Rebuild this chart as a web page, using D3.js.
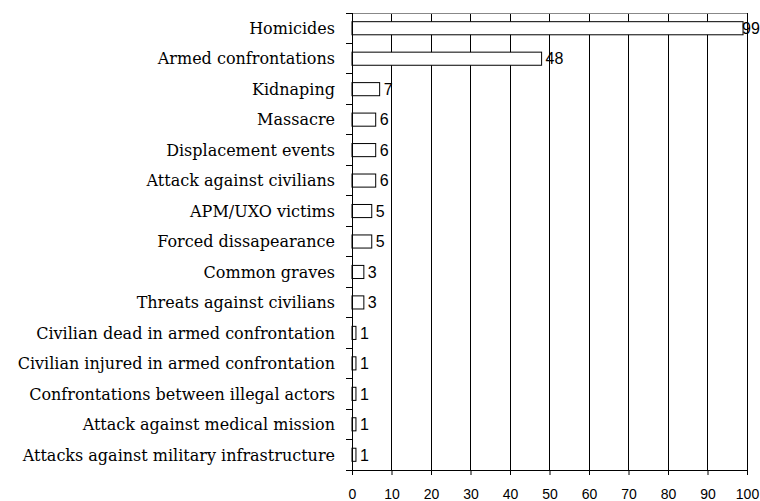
<!DOCTYPE html>
<html>
<head>
<meta charset="utf-8">
<script src="https://cdn.jsdelivr.net/npm/d3@7"></script>
<style>
  body { margin: 0; background: #fff; }
  svg { display: block; }
</style>
</head>
<body>
<svg id="chart" width="760" height="501"></svg>
<script>
var categories = [
  'Homicides', 'Armed confrontations', 'Kidnaping', 'Massacre',
  'Displacement events', 'Attack against civilians', 'APM/UXO victims',
  'Forced dissapearance', 'Common graves', 'Threats against civilians',
  'Civilian dead in armed confrontation', 'Civilian injured in armed confrontation',
  'Confrontations between illegal actors', 'Attack against medical mission',
  'Attacks against military infrastructure'
]
var values = [99, 48, 7, 6, 6, 6, 5, 5, 3, 3, 1, 1, 1, 1, 1]
var xTicks = [0, 10, 20, 30, 40, 50, 60, 70, 80, 90, 100]

var svg = d3.select('#chart')
var svgWidth = +svg.attr('width')
var padding = {l: 352, r: 13, t: 13, b: 31}
var chartWidth = svgWidth - padding.l - padding.r
var chartHeight = +svg.attr('height') - padding.t - padding.b

var x = d3.scaleLinear().domain([0, 100]).range([0, chartWidth])
var y = d3.scaleBand().domain(categories).range([0, chartHeight]).paddingInner(0.57).paddingOuter(0.285)

var g = svg.append('g').attr('transform', 'translate(' + padding.l + ',' + padding.t + ')')

// vertical grid
g.selectAll('.grid').data(xTicks.slice(1))
  .enter().append('line')
  .attr('x1', function(d){ return x(d) }).attr('x2', function(d){ return x(d) })
  .attr('y1', 0).attr('y2', chartHeight)
  .attr('stroke', '#000').attr('stroke-width', 1).attr('shape-rendering', 'crispEdges')

// top border
g.append('line').attr('x1', 0).attr('x2', chartWidth).attr('y1', 0).attr('y2', 0)
  .attr('stroke', '#888').attr('shape-rendering', 'crispEdges')

// bars
g.selectAll('.bar').data(values)
  .enter().append('rect')
  .attr('x', 0)
  .attr('y', function(d, i){ return y(categories[i]) })
  .attr('width', function(d){ return x(d) })
  .attr('height', y.bandwidth())
  .attr('fill', '#fff').attr('stroke', '#000').attr('stroke-width', 1)

// value labels (kept inside the picture)
g.selectAll('.val').data(values)
  .enter().append('text')
  .attr('x', function(d){ return Math.min(x(d) + 4, svgWidth - padding.l - 18) })
  .attr('y', function(d, i){ return y(categories[i]) + y.bandwidth() / 2 })
  .attr('dy', '0.36em')
  .attr('font-family', 'Liberation Sans, Arial, sans-serif')
  .attr('font-size', 16)
  .text(function(d){ return d })

// left axis with ticks between categories
var step = y.step()
var bounds = d3.range(categories.length + 1).map(function(i){ return y(categories[0]) - y.paddingInner() * step / 2 + i * step })
g.append('line').attr('x1', 0).attr('x2', 0).attr('y1', 0).attr('y2', chartHeight)
  .attr('stroke', '#000').attr('shape-rendering', 'crispEdges')
g.selectAll('.ytick').data(bounds)
  .enter().append('line')
  .attr('x1', -6).attr('x2', 0)
  .attr('y1', function(d){ return d }).attr('y2', function(d){ return d })
  .attr('stroke', '#000').attr('shape-rendering', 'crispEdges')

g.selectAll('.cat').data(categories)
  .enter().append('text')
  .attr('x', -17)
  .attr('y', function(d){ return y(d) + y.bandwidth() / 2 })
  .attr('dy', '0.36em')
  .attr('text-anchor', 'end')
  .attr('font-family', 'DejaVu Serif, serif')
  .attr('font-size', 16)
  .text(function(d){ return d })

// bottom axis
var xAxis = d3.axisBottom(x).tickValues(xTicks).tickSize(5).tickPadding(14)
var ax = g.append('g').attr('transform', 'translate(0,' + chartHeight + ')').call(xAxis)
ax.select('.domain').attr('stroke', '#000')
ax.selectAll('text').attr('font-family', 'Liberation Sans, Arial, sans-serif').attr('font-size', 14).attr('fill', '#000')
</script>
</body>
</html>
